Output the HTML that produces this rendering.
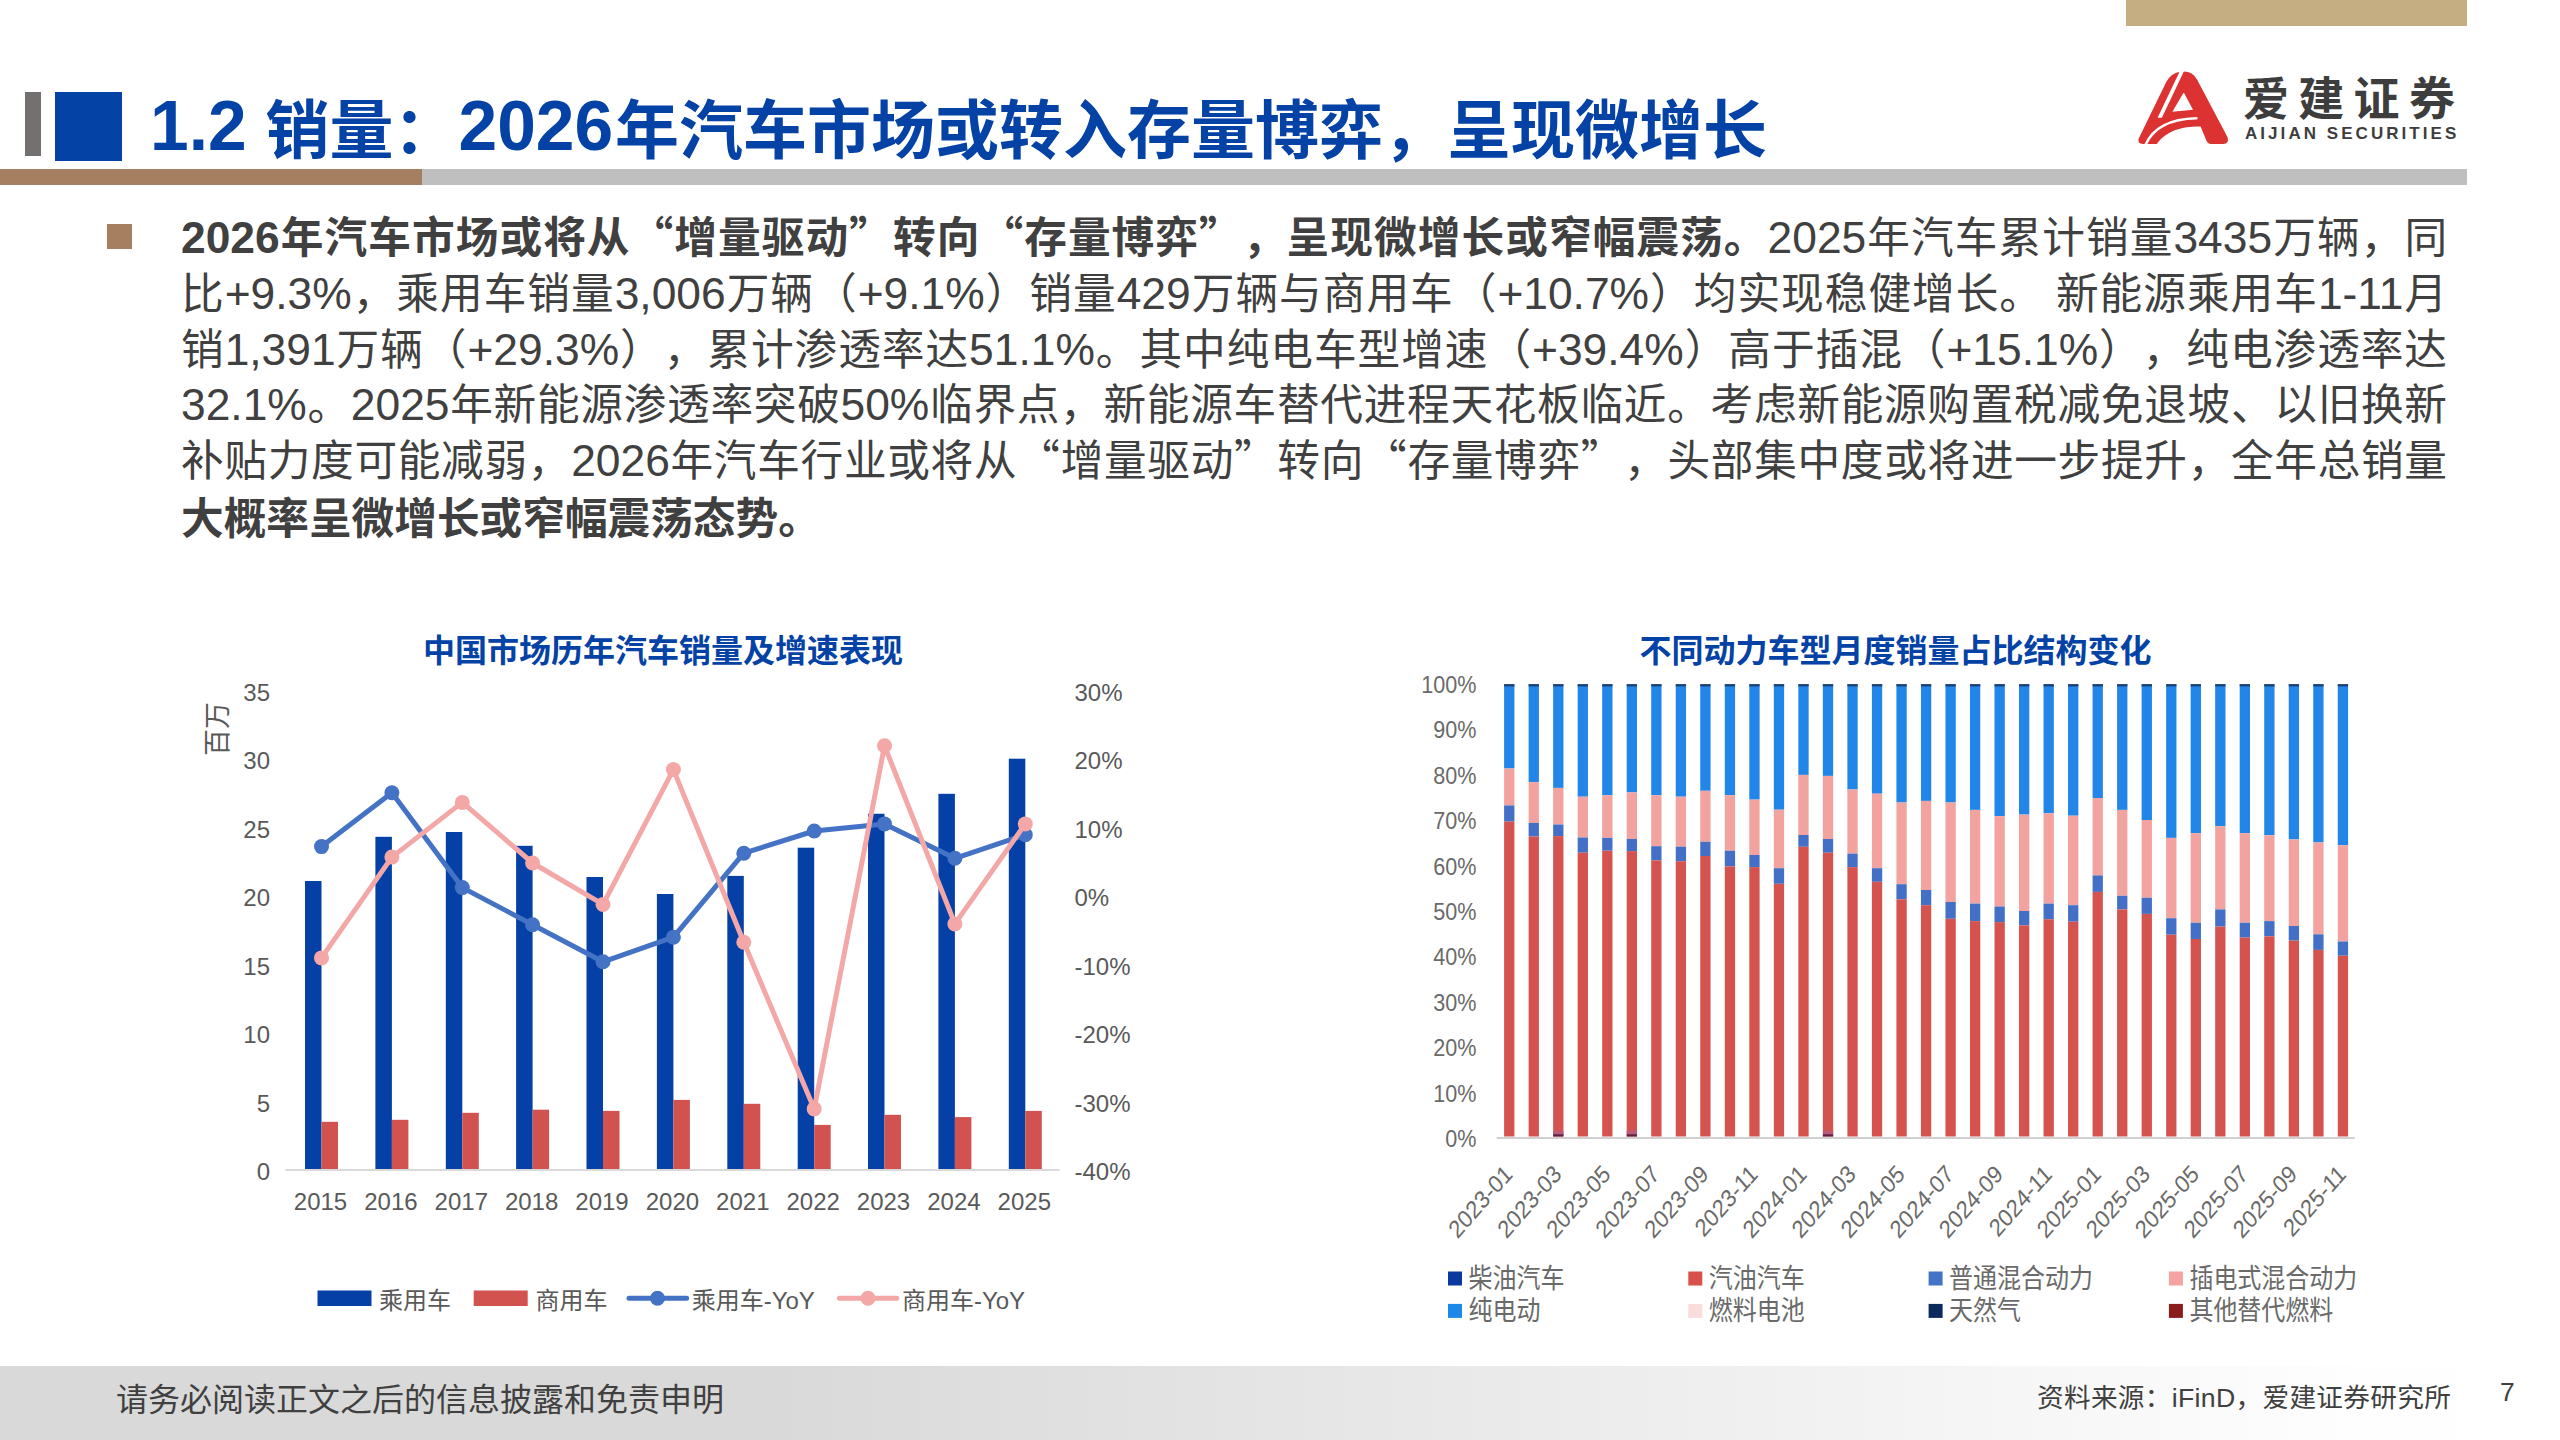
<!DOCTYPE html>
<html lang="zh-CN"><head><meta charset="utf-8"><title>1.2 销量</title>
<style>
html,body{margin:0;padding:0;background:#fff;}
body{width:2560px;height:1440px;position:relative;overflow:hidden;font-family:"Liberation Sans","Noto Sans CJK SC",sans-serif;}
.abs{position:absolute;}
.bl{position:absolute;left:181px;width:2266px;font-size:42.67px;line-height:56px;color:#404040;white-space:nowrap;}
.bl.j{text-align:justify;text-align-last:justify;white-space:normal;}
.bl b{font-weight:700;}
.q{font-family:"Noto Sans CJK SC",sans-serif;line-height:30px;}
.l{font-size:1.04em;line-height:30px;}
body{text-spacing-trim:space-all;}
</style></head><body>

<div class="abs" style="left:2126px;top:0;width:341px;height:26px;background:#c4ae82"></div>
<div class="abs" style="left:25px;top:92px;width:16px;height:64px;background:#757070"></div>
<div class="abs" style="left:55px;top:92px;width:67px;height:69px;background:#0442a6"></div>
<div class="abs" style="left:0;top:169px;width:422px;height:16px;background:#a67f60"></div>
<div class="abs" style="left:422px;top:169px;width:2045px;height:16px;background:#bfbfbf"></div>
<div class="abs" style="left:0;top:0;width:1800px;height:170px">
<span style="position:absolute;font-weight:700;color:#0442a6;white-space:nowrap;left:150px;top:91.5px;font-size:69.5px;line-height:1;font-family:Liberation Sans,sans-serif">1.2</span>
<span style="position:absolute;font-weight:700;color:#0442a6;white-space:nowrap;left:265.5px;top:92.5px;font-size:64px;line-height:1;font-family:Noto Sans CJK SC,sans-serif">销量：</span>
<span style="position:absolute;font-weight:700;color:#0442a6;white-space:nowrap;left:458.5px;top:91.5px;font-size:69.5px;line-height:1;font-family:Liberation Sans,sans-serif;transform:scaleX(1.0);transform-origin:0 0">2026</span>
<span style="position:absolute;font-weight:700;color:#0442a6;white-space:nowrap;left:615px;top:92.5px;font-size:64px;line-height:1;font-family:Noto Sans CJK SC,sans-serif">年汽车市场或转入存量博弈，呈现微增长</span>
</div>
<svg style="position:absolute;left:2130px;top:64px" width="110" height="86" viewBox="0 0 1842 1440">
<path fill="#dc3232" d="M150,1240 L607,300 Q690,145 849,128 L903,127 Q1050,130 1125,262 L1632,1222 Q1668,1336 1560,1338 L1345,1338 Q1300,1335 1282,1290 L1182,1045 C900,1040 620,1100 450,1338 L210,1338 Q110,1332 150,1240 Z"/>
<path fill="#fff" d="M891,490 Q900,478 910,492 L1055,768 L710,799 Z"/>
<path fill="#fff" d="M846,95 L915,95 L534,900 L462,900 Z"/>
<path fill="none" stroke="#fff" stroke-width="42" stroke-linecap="round" d="M262,1350 C380,1080 650,920 1112,908"/>
</svg>
<div class="abs" style="left:2243px;top:65px;font-size:46px;line-height:60px;font-weight:700;color:#3d3d3d;letter-spacing:9.3px;white-space:nowrap;font-family:Noto Sans CJK SC,sans-serif">爱建证券</div>
<div class="abs" style="left:2245px;top:123.5px;font-size:17px;line-height:20px;font-weight:700;color:#3d3d3d;letter-spacing:3.05px;white-space:nowrap">AIJIAN SECURITIES</div>
<div class="abs" style="left:107px;top:224px;width:25px;height:25px;background:#a67f60"></div>
<div class="bl j" style="top:210.0px"><b><span class="l">2026</span>年汽车市场或将从<span class="q">“</span>增量驱动<span class="q">”</span>转向<span class="q">“</span>存量博弈<span class="q">”</span>，呈现微增长或窄幅震荡。</b><span class="l">2025</span>年汽车累计销量<span class="l">3435</span>万辆，同</div>
<div class="bl j" style="top:265.8px">比<span class="l">+9.3%</span>，乘用车销量<span class="l">3,006</span>万辆（<span class="l">+9.1%</span>）销量<span class="l">429</span>万辆与商用车（<span class="l">+10.7%</span>）均实现稳健增长。 新能源乘用车<span class="l">1-11</span>月</div>
<div class="bl j" style="top:321.6px">销<span class="l">1,391</span>万辆（<span class="l">+29.3%</span>），累计渗透率达<span class="l">51.1%</span>。其中纯电车型增速（<span class="l">+39.4%</span>）高于插混（<span class="l">+15.1%</span>），纯电渗透率达</div>
<div class="bl j" style="top:377.4px"><span class="l">32.1%</span>。<span class="l">2025</span>年新能源渗透率突破<span class="l">50%</span>临界点，新能源车替代进程天花板临近。考虑新能源购置税减免退坡、以旧换新</div>
<div class="bl j" style="top:433.2px">补贴力度可能减弱，<span class="l">2026</span>年汽车行业或将从<span class="q">“</span>增量驱动<span class="q">”</span>转向<span class="q">“</span>存量博弈<span class="q">”</span>，头部集中度或将进一步提升，全年总销量</div>
<div class="bl" style="top:491.0px"><b>大概率呈微增长或窄幅震荡态势。</b></div>
<svg class="abs" style="left:0;top:0" width="2560" height="1440" viewBox="0 0 2560 1440" font-family="Liberation Sans, Noto Sans CJK SC, sans-serif">
<text x="663" y="662" text-anchor="middle" font-family='"Liberation Sans", "Noto Sans CJK SC", sans-serif' font-weight="700" font-size="32" fill="#0442a6">中国市场历年汽车销量及增速表现</text>
<text x="270" y="1180.0" text-anchor="end" font-size="24" fill="#595959">0</text>
<text x="1074.5" y="1180.0" font-size="24" fill="#595959">-40%</text>
<text x="270" y="1111.5" text-anchor="end" font-size="24" fill="#595959">5</text>
<text x="1074.5" y="1111.5" font-size="24" fill="#595959">-30%</text>
<text x="270" y="1043.0" text-anchor="end" font-size="24" fill="#595959">10</text>
<text x="1074.5" y="1043.0" font-size="24" fill="#595959">-20%</text>
<text x="270" y="974.5" text-anchor="end" font-size="24" fill="#595959">15</text>
<text x="1074.5" y="974.5" font-size="24" fill="#595959">-10%</text>
<text x="270" y="906.0" text-anchor="end" font-size="24" fill="#595959">20</text>
<text x="1074.5" y="906.0" font-size="24" fill="#595959">0%</text>
<text x="270" y="837.5" text-anchor="end" font-size="24" fill="#595959">25</text>
<text x="1074.5" y="837.5" font-size="24" fill="#595959">10%</text>
<text x="270" y="769.0" text-anchor="end" font-size="24" fill="#595959">30</text>
<text x="1074.5" y="769.0" font-size="24" fill="#595959">20%</text>
<text x="270" y="700.5" text-anchor="end" font-size="24" fill="#595959">35</text>
<text x="1074.5" y="700.5" font-size="24" fill="#595959">30%</text>
<text transform="translate(226.8,729) rotate(-90)" text-anchor="middle" font-family='"Liberation Sans", "Noto Sans CJK SC", sans-serif' font-size="27" fill="#595959">百万</text>
<rect x="305.0" y="881" width="16.5" height="289.0" fill="#0540a6"/>
<rect x="321.5" y="1121.8" width="16.5" height="48.2" fill="#d25250"/>
<rect x="375.4" y="836.8" width="16.5" height="333.2" fill="#0540a6"/>
<rect x="391.9" y="1119.8" width="16.5" height="50.2" fill="#d25250"/>
<rect x="445.8" y="832" width="16.5" height="338.0" fill="#0540a6"/>
<rect x="462.3" y="1112.8" width="16.5" height="57.2" fill="#d25250"/>
<rect x="516.1" y="845.8" width="16.5" height="324.2" fill="#0540a6"/>
<rect x="532.6" y="1109.7" width="16.5" height="60.3" fill="#d25250"/>
<rect x="586.5" y="877" width="16.5" height="293.0" fill="#0540a6"/>
<rect x="603.0" y="1110.9" width="16.5" height="59.1" fill="#d25250"/>
<rect x="656.9" y="894" width="16.5" height="276.0" fill="#0540a6"/>
<rect x="673.4" y="1099.9" width="16.5" height="70.1" fill="#d25250"/>
<rect x="727.3" y="875.9" width="16.5" height="294.1" fill="#0540a6"/>
<rect x="743.8" y="1103.8" width="16.5" height="66.2" fill="#d25250"/>
<rect x="797.7" y="847.7" width="16.5" height="322.3" fill="#0540a6"/>
<rect x="814.2" y="1124.9" width="16.5" height="45.1" fill="#d25250"/>
<rect x="868.0" y="813.75" width="16.5" height="356.2" fill="#0540a6"/>
<rect x="884.5" y="1114.8" width="16.5" height="55.2" fill="#d25250"/>
<rect x="938.4" y="793.8" width="16.5" height="376.2" fill="#0540a6"/>
<rect x="954.9" y="1117.1" width="16.5" height="52.9" fill="#d25250"/>
<rect x="1008.8" y="758.7" width="16.5" height="411.3" fill="#0540a6"/>
<rect x="1025.3" y="1110.9" width="16.5" height="59.1" fill="#d25250"/>
<rect x="285.5" y="1169" width="774" height="2" fill="#d9d9d9"/>
<text x="320.5" y="1210" text-anchor="middle" font-size="24" fill="#595959">2015</text>
<text x="390.9" y="1210" text-anchor="middle" font-size="24" fill="#595959">2016</text>
<text x="461.3" y="1210" text-anchor="middle" font-size="24" fill="#595959">2017</text>
<text x="531.6" y="1210" text-anchor="middle" font-size="24" fill="#595959">2018</text>
<text x="602.0" y="1210" text-anchor="middle" font-size="24" fill="#595959">2019</text>
<text x="672.4" y="1210" text-anchor="middle" font-size="24" fill="#595959">2020</text>
<text x="742.8" y="1210" text-anchor="middle" font-size="24" fill="#595959">2021</text>
<text x="813.2" y="1210" text-anchor="middle" font-size="24" fill="#595959">2022</text>
<text x="883.5" y="1210" text-anchor="middle" font-size="24" fill="#595959">2023</text>
<text x="953.9" y="1210" text-anchor="middle" font-size="24" fill="#595959">2024</text>
<text x="1024.3" y="1210" text-anchor="middle" font-size="24" fill="#595959">2025</text>
<polyline points="321.5,846.6 391.9,792.7 462.3,887.6 532.6,924.7 603.0,961.8 673.4,937.2 743.8,853.2 814.2,831 884.5,823.9 954.9,858.3 1025.3,834.8" fill="none" stroke="#4472c4" stroke-width="5" stroke-linejoin="round"/>
<circle cx="321.5" cy="846.6" r="7.5" fill="#4472c4"/>
<circle cx="391.9" cy="792.7" r="7.5" fill="#4472c4"/>
<circle cx="462.3" cy="887.6" r="7.5" fill="#4472c4"/>
<circle cx="532.6" cy="924.7" r="7.5" fill="#4472c4"/>
<circle cx="603.0" cy="961.8" r="7.5" fill="#4472c4"/>
<circle cx="673.4" cy="937.2" r="7.5" fill="#4472c4"/>
<circle cx="743.8" cy="853.2" r="7.5" fill="#4472c4"/>
<circle cx="814.2" cy="831" r="7.5" fill="#4472c4"/>
<circle cx="884.5" cy="823.9" r="7.5" fill="#4472c4"/>
<circle cx="954.9" cy="858.3" r="7.5" fill="#4472c4"/>
<circle cx="1025.3" cy="834.8" r="7.5" fill="#4472c4"/>
<polyline points="321.5,957.9 391.9,857.1 462.3,802.4 532.6,863 603.0,904.4 673.4,769.6 743.8,942.3 814.2,1108.9 884.5,745.8 954.9,923.9 1025.3,823.9" fill="none" stroke="#f4a7a7" stroke-width="5" stroke-linejoin="round"/>
<circle cx="321.5" cy="957.9" r="7.5" fill="#f4a7a7"/>
<circle cx="391.9" cy="857.1" r="7.5" fill="#f4a7a7"/>
<circle cx="462.3" cy="802.4" r="7.5" fill="#f4a7a7"/>
<circle cx="532.6" cy="863" r="7.5" fill="#f4a7a7"/>
<circle cx="603.0" cy="904.4" r="7.5" fill="#f4a7a7"/>
<circle cx="673.4" cy="769.6" r="7.5" fill="#f4a7a7"/>
<circle cx="743.8" cy="942.3" r="7.5" fill="#f4a7a7"/>
<circle cx="814.2" cy="1108.9" r="7.5" fill="#f4a7a7"/>
<circle cx="884.5" cy="745.8" r="7.5" fill="#f4a7a7"/>
<circle cx="954.9" cy="923.9" r="7.5" fill="#f4a7a7"/>
<circle cx="1025.3" cy="823.9" r="7.5" fill="#f4a7a7"/>
<rect x="317.5" y="1290.5" width="54" height="15.5" fill="#0540a6"/>
<text x="379" y="1308.5" font-family='"Liberation Sans", "Noto Sans CJK SC", sans-serif' font-size="24" fill="#595959">乘用车</text>
<rect x="473.7" y="1290.5" width="54" height="15.5" fill="#d25250"/>
<text x="535.5" y="1308.5" font-family='"Liberation Sans", "Noto Sans CJK SC", sans-serif' font-size="24" fill="#595959">商用车</text>
<line x1="629" y1="1298.3" x2="686.6" y2="1298.3" stroke="#4472c4" stroke-width="5" stroke-linecap="round"/>
<circle cx="657.5" cy="1298.3" r="7.5" fill="#4472c4"/>
<text x="691.7" y="1308.5" font-family='"Liberation Sans", "Noto Sans CJK SC", sans-serif' font-size="24" fill="#595959">乘用车-YoY</text>
<line x1="839.4" y1="1298.3" x2="896.8" y2="1298.3" stroke="#f4a7a7" stroke-width="5" stroke-linecap="round"/>
<circle cx="868" cy="1298.3" r="7.5" fill="#f4a7a7"/>
<text x="901.9" y="1308.5" font-family='"Liberation Sans", "Noto Sans CJK SC", sans-serif' font-size="24" fill="#595959">商用车-YoY</text>
<text x="1895.4" y="662" text-anchor="middle" font-family='"Liberation Sans", "Noto Sans CJK SC", sans-serif' font-weight="700" font-size="32" fill="#0442a6">不同动力车型月度销量占比结构变化</text>
<text transform="translate(1476.5,1146.9) scale(1,1.135)" text-anchor="end" font-size="21.6" fill="#6a6a6a">0%</text>
<text transform="translate(1476.5,1101.5) scale(1,1.135)" text-anchor="end" font-size="21.6" fill="#6a6a6a">10%</text>
<text transform="translate(1476.5,1056.1) scale(1,1.135)" text-anchor="end" font-size="21.6" fill="#6a6a6a">20%</text>
<text transform="translate(1476.5,1010.7) scale(1,1.135)" text-anchor="end" font-size="21.6" fill="#6a6a6a">30%</text>
<text transform="translate(1476.5,965.3) scale(1,1.135)" text-anchor="end" font-size="21.6" fill="#6a6a6a">40%</text>
<text transform="translate(1476.5,919.9) scale(1,1.135)" text-anchor="end" font-size="21.6" fill="#6a6a6a">50%</text>
<text transform="translate(1476.5,874.5) scale(1,1.135)" text-anchor="end" font-size="21.6" fill="#6a6a6a">60%</text>
<text transform="translate(1476.5,829.1) scale(1,1.135)" text-anchor="end" font-size="21.6" fill="#6a6a6a">70%</text>
<text transform="translate(1476.5,783.7) scale(1,1.135)" text-anchor="end" font-size="21.6" fill="#6a6a6a">80%</text>
<text transform="translate(1476.5,738.3) scale(1,1.135)" text-anchor="end" font-size="21.6" fill="#6a6a6a">90%</text>
<text transform="translate(1476.5,692.9) scale(1,1.135)" text-anchor="end" font-size="21.6" fill="#6a6a6a">100%</text>
<rect x="1504.10" y="684.2" width="10.3" height="84.3" fill="#2285e8"/>
<rect x="1504.10" y="684.2" width="10.3" height="2.2" fill="#1c3f72"/>
<rect x="1504.10" y="768.5" width="10.3" height="36.9" fill="#f2a3a0"/>
<rect x="1504.10" y="805.4" width="10.3" height="16.2" fill="#4370c6"/>
<rect x="1504.10" y="821.6" width="10.3" height="314.9" fill="#d5534f"/>
<rect x="1528.62" y="684.2" width="10.3" height="97.9" fill="#2285e8"/>
<rect x="1528.62" y="684.2" width="10.3" height="2.2" fill="#1c3f72"/>
<rect x="1528.62" y="782.1" width="10.3" height="40.8" fill="#f2a3a0"/>
<rect x="1528.62" y="822.9" width="10.3" height="13.6" fill="#4370c6"/>
<rect x="1528.62" y="836.5" width="10.3" height="300.0" fill="#d5534f"/>
<rect x="1553.14" y="684.2" width="10.3" height="103.7" fill="#2285e8"/>
<rect x="1553.14" y="684.2" width="10.3" height="2.2" fill="#1c3f72"/>
<rect x="1553.14" y="787.9" width="10.3" height="36.6" fill="#f2a3a0"/>
<rect x="1553.14" y="824.5" width="10.3" height="11.6" fill="#4370c6"/>
<rect x="1553.14" y="836.1" width="10.3" height="300.4" fill="#d5534f"/>
<rect x="1577.66" y="684.2" width="10.3" height="112.5" fill="#2285e8"/>
<rect x="1577.66" y="684.2" width="10.3" height="2.2" fill="#1c3f72"/>
<rect x="1577.66" y="796.7" width="10.3" height="40.8" fill="#f2a3a0"/>
<rect x="1577.66" y="837.5" width="10.3" height="15.2" fill="#4370c6"/>
<rect x="1577.66" y="852.7" width="10.3" height="283.8" fill="#d5534f"/>
<rect x="1602.18" y="684.2" width="10.3" height="111.1" fill="#2285e8"/>
<rect x="1602.18" y="684.2" width="10.3" height="2.2" fill="#1c3f72"/>
<rect x="1602.18" y="795.3" width="10.3" height="42.6" fill="#f2a3a0"/>
<rect x="1602.18" y="837.9" width="10.3" height="12.8" fill="#4370c6"/>
<rect x="1602.18" y="850.7" width="10.3" height="285.8" fill="#d5534f"/>
<rect x="1626.70" y="684.2" width="10.3" height="108.2" fill="#2285e8"/>
<rect x="1626.70" y="684.2" width="10.3" height="2.2" fill="#1c3f72"/>
<rect x="1626.70" y="792.4" width="10.3" height="46.6" fill="#f2a3a0"/>
<rect x="1626.70" y="839.0" width="10.3" height="12.1" fill="#4370c6"/>
<rect x="1626.70" y="851.1" width="10.3" height="285.4" fill="#d5534f"/>
<rect x="1651.22" y="684.2" width="10.3" height="111.1" fill="#2285e8"/>
<rect x="1651.22" y="684.2" width="10.3" height="2.2" fill="#1c3f72"/>
<rect x="1651.22" y="795.3" width="10.3" height="50.9" fill="#f2a3a0"/>
<rect x="1651.22" y="846.2" width="10.3" height="14.2" fill="#4370c6"/>
<rect x="1651.22" y="860.4" width="10.3" height="276.1" fill="#d5534f"/>
<rect x="1675.74" y="684.2" width="10.3" height="112.5" fill="#2285e8"/>
<rect x="1675.74" y="684.2" width="10.3" height="2.2" fill="#1c3f72"/>
<rect x="1675.74" y="796.7" width="10.3" height="49.9" fill="#f2a3a0"/>
<rect x="1675.74" y="846.6" width="10.3" height="14.6" fill="#4370c6"/>
<rect x="1675.74" y="861.2" width="10.3" height="275.3" fill="#d5534f"/>
<rect x="1700.26" y="684.2" width="10.3" height="106.6" fill="#2285e8"/>
<rect x="1700.26" y="684.2" width="10.3" height="2.2" fill="#1c3f72"/>
<rect x="1700.26" y="790.8" width="10.3" height="51.0" fill="#f2a3a0"/>
<rect x="1700.26" y="841.8" width="10.3" height="14.2" fill="#4370c6"/>
<rect x="1700.26" y="856.0" width="10.3" height="280.5" fill="#d5534f"/>
<rect x="1724.78" y="684.2" width="10.3" height="110.9" fill="#2285e8"/>
<rect x="1724.78" y="684.2" width="10.3" height="2.2" fill="#1c3f72"/>
<rect x="1724.78" y="795.1" width="10.3" height="55.6" fill="#f2a3a0"/>
<rect x="1724.78" y="850.7" width="10.3" height="15.6" fill="#4370c6"/>
<rect x="1724.78" y="866.3" width="10.3" height="270.2" fill="#d5534f"/>
<rect x="1749.30" y="684.2" width="10.3" height="115.4" fill="#2285e8"/>
<rect x="1749.30" y="684.2" width="10.3" height="2.2" fill="#1c3f72"/>
<rect x="1749.30" y="799.6" width="10.3" height="55.4" fill="#f2a3a0"/>
<rect x="1749.30" y="855.0" width="10.3" height="12.1" fill="#4370c6"/>
<rect x="1749.30" y="867.1" width="10.3" height="269.4" fill="#d5534f"/>
<rect x="1773.82" y="684.2" width="10.3" height="125.5" fill="#2285e8"/>
<rect x="1773.82" y="684.2" width="10.3" height="2.2" fill="#1c3f72"/>
<rect x="1773.82" y="809.7" width="10.3" height="58.5" fill="#f2a3a0"/>
<rect x="1773.82" y="868.2" width="10.3" height="15.6" fill="#4370c6"/>
<rect x="1773.82" y="883.8" width="10.3" height="252.7" fill="#d5534f"/>
<rect x="1798.34" y="684.2" width="10.3" height="90.7" fill="#2285e8"/>
<rect x="1798.34" y="684.2" width="10.3" height="2.2" fill="#1c3f72"/>
<rect x="1798.34" y="774.9" width="10.3" height="60.1" fill="#f2a3a0"/>
<rect x="1798.34" y="835.0" width="10.3" height="11.8" fill="#4370c6"/>
<rect x="1798.34" y="846.8" width="10.3" height="289.7" fill="#d5534f"/>
<rect x="1822.86" y="684.2" width="10.3" height="91.7" fill="#2285e8"/>
<rect x="1822.86" y="684.2" width="10.3" height="2.2" fill="#1c3f72"/>
<rect x="1822.86" y="775.9" width="10.3" height="63.1" fill="#f2a3a0"/>
<rect x="1822.86" y="839.0" width="10.3" height="13.7" fill="#4370c6"/>
<rect x="1822.86" y="852.7" width="10.3" height="283.8" fill="#d5534f"/>
<rect x="1847.38" y="684.2" width="10.3" height="105.3" fill="#2285e8"/>
<rect x="1847.38" y="684.2" width="10.3" height="2.2" fill="#1c3f72"/>
<rect x="1847.38" y="789.5" width="10.3" height="64.1" fill="#f2a3a0"/>
<rect x="1847.38" y="853.6" width="10.3" height="13.5" fill="#4370c6"/>
<rect x="1847.38" y="867.1" width="10.3" height="269.4" fill="#d5534f"/>
<rect x="1871.90" y="684.2" width="10.3" height="109.5" fill="#2285e8"/>
<rect x="1871.90" y="684.2" width="10.3" height="2.2" fill="#1c3f72"/>
<rect x="1871.90" y="793.7" width="10.3" height="74.5" fill="#f2a3a0"/>
<rect x="1871.90" y="868.2" width="10.3" height="13.6" fill="#4370c6"/>
<rect x="1871.90" y="881.8" width="10.3" height="254.7" fill="#d5534f"/>
<rect x="1896.42" y="684.2" width="10.3" height="118.3" fill="#2285e8"/>
<rect x="1896.42" y="684.2" width="10.3" height="2.2" fill="#1c3f72"/>
<rect x="1896.42" y="802.5" width="10.3" height="81.7" fill="#f2a3a0"/>
<rect x="1896.42" y="884.2" width="10.3" height="15.1" fill="#4370c6"/>
<rect x="1896.42" y="899.3" width="10.3" height="237.2" fill="#d5534f"/>
<rect x="1920.94" y="684.2" width="10.3" height="116.7" fill="#2285e8"/>
<rect x="1920.94" y="684.2" width="10.3" height="2.2" fill="#1c3f72"/>
<rect x="1920.94" y="800.9" width="10.3" height="89.1" fill="#f2a3a0"/>
<rect x="1920.94" y="890.0" width="10.3" height="15.2" fill="#4370c6"/>
<rect x="1920.94" y="905.2" width="10.3" height="231.3" fill="#d5534f"/>
<rect x="1945.46" y="684.2" width="10.3" height="118.3" fill="#2285e8"/>
<rect x="1945.46" y="684.2" width="10.3" height="2.2" fill="#1c3f72"/>
<rect x="1945.46" y="802.5" width="10.3" height="99.5" fill="#f2a3a0"/>
<rect x="1945.46" y="902.0" width="10.3" height="16.8" fill="#4370c6"/>
<rect x="1945.46" y="918.8" width="10.3" height="217.7" fill="#d5534f"/>
<rect x="1969.98" y="684.2" width="10.3" height="125.7" fill="#2285e8"/>
<rect x="1969.98" y="684.2" width="10.3" height="2.2" fill="#1c3f72"/>
<rect x="1969.98" y="809.9" width="10.3" height="93.7" fill="#f2a3a0"/>
<rect x="1969.98" y="903.6" width="10.3" height="17.5" fill="#4370c6"/>
<rect x="1969.98" y="921.1" width="10.3" height="215.4" fill="#d5534f"/>
<rect x="1994.50" y="684.2" width="10.3" height="131.9" fill="#2285e8"/>
<rect x="1994.50" y="684.2" width="10.3" height="2.2" fill="#1c3f72"/>
<rect x="1994.50" y="816.1" width="10.3" height="90.4" fill="#f2a3a0"/>
<rect x="1994.50" y="906.5" width="10.3" height="15.6" fill="#4370c6"/>
<rect x="1994.50" y="922.1" width="10.3" height="214.4" fill="#d5534f"/>
<rect x="2019.02" y="684.2" width="10.3" height="130.4" fill="#2285e8"/>
<rect x="2019.02" y="684.2" width="10.3" height="2.2" fill="#1c3f72"/>
<rect x="2019.02" y="814.6" width="10.3" height="96.4" fill="#f2a3a0"/>
<rect x="2019.02" y="911.0" width="10.3" height="14.4" fill="#4370c6"/>
<rect x="2019.02" y="925.4" width="10.3" height="211.1" fill="#d5534f"/>
<rect x="2043.54" y="684.2" width="10.3" height="129.0" fill="#2285e8"/>
<rect x="2043.54" y="684.2" width="10.3" height="2.2" fill="#1c3f72"/>
<rect x="2043.54" y="813.2" width="10.3" height="90.4" fill="#f2a3a0"/>
<rect x="2043.54" y="903.6" width="10.3" height="15.6" fill="#4370c6"/>
<rect x="2043.54" y="919.2" width="10.3" height="217.3" fill="#d5534f"/>
<rect x="2068.06" y="684.2" width="10.3" height="131.5" fill="#2285e8"/>
<rect x="2068.06" y="684.2" width="10.3" height="2.2" fill="#1c3f72"/>
<rect x="2068.06" y="815.7" width="10.3" height="89.5" fill="#f2a3a0"/>
<rect x="2068.06" y="905.2" width="10.3" height="16.5" fill="#4370c6"/>
<rect x="2068.06" y="921.7" width="10.3" height="214.8" fill="#d5534f"/>
<rect x="2092.58" y="684.2" width="10.3" height="113.8" fill="#2285e8"/>
<rect x="2092.58" y="684.2" width="10.3" height="2.2" fill="#1c3f72"/>
<rect x="2092.58" y="798.0" width="10.3" height="77.4" fill="#f2a3a0"/>
<rect x="2092.58" y="875.4" width="10.3" height="16.5" fill="#4370c6"/>
<rect x="2092.58" y="891.9" width="10.3" height="244.6" fill="#d5534f"/>
<rect x="2117.10" y="684.2" width="10.3" height="125.7" fill="#2285e8"/>
<rect x="2117.10" y="684.2" width="10.3" height="2.2" fill="#1c3f72"/>
<rect x="2117.10" y="809.9" width="10.3" height="85.9" fill="#f2a3a0"/>
<rect x="2117.10" y="895.8" width="10.3" height="13.6" fill="#4370c6"/>
<rect x="2117.10" y="909.4" width="10.3" height="227.1" fill="#d5534f"/>
<rect x="2141.62" y="684.2" width="10.3" height="135.8" fill="#2285e8"/>
<rect x="2141.62" y="684.2" width="10.3" height="2.2" fill="#1c3f72"/>
<rect x="2141.62" y="820.0" width="10.3" height="77.8" fill="#f2a3a0"/>
<rect x="2141.62" y="897.8" width="10.3" height="16.1" fill="#4370c6"/>
<rect x="2141.62" y="913.9" width="10.3" height="222.6" fill="#d5534f"/>
<rect x="2166.14" y="684.2" width="10.3" height="153.7" fill="#2285e8"/>
<rect x="2166.14" y="684.2" width="10.3" height="2.2" fill="#1c3f72"/>
<rect x="2166.14" y="837.9" width="10.3" height="80.3" fill="#f2a3a0"/>
<rect x="2166.14" y="918.2" width="10.3" height="16.5" fill="#4370c6"/>
<rect x="2166.14" y="934.7" width="10.3" height="201.8" fill="#d5534f"/>
<rect x="2190.66" y="684.2" width="10.3" height="149.0" fill="#2285e8"/>
<rect x="2190.66" y="684.2" width="10.3" height="2.2" fill="#1c3f72"/>
<rect x="2190.66" y="833.2" width="10.3" height="89.5" fill="#f2a3a0"/>
<rect x="2190.66" y="922.7" width="10.3" height="16.3" fill="#4370c6"/>
<rect x="2190.66" y="939.0" width="10.3" height="197.5" fill="#d5534f"/>
<rect x="2215.18" y="684.2" width="10.3" height="142.0" fill="#2285e8"/>
<rect x="2215.18" y="684.2" width="10.3" height="2.2" fill="#1c3f72"/>
<rect x="2215.18" y="826.2" width="10.3" height="83.2" fill="#f2a3a0"/>
<rect x="2215.18" y="909.4" width="10.3" height="17.2" fill="#4370c6"/>
<rect x="2215.18" y="926.6" width="10.3" height="209.9" fill="#d5534f"/>
<rect x="2239.70" y="684.2" width="10.3" height="149.0" fill="#2285e8"/>
<rect x="2239.70" y="684.2" width="10.3" height="2.2" fill="#1c3f72"/>
<rect x="2239.70" y="833.2" width="10.3" height="89.5" fill="#f2a3a0"/>
<rect x="2239.70" y="922.7" width="10.3" height="14.9" fill="#4370c6"/>
<rect x="2239.70" y="937.6" width="10.3" height="198.9" fill="#d5534f"/>
<rect x="2264.22" y="684.2" width="10.3" height="151.0" fill="#2285e8"/>
<rect x="2264.22" y="684.2" width="10.3" height="2.2" fill="#1c3f72"/>
<rect x="2264.22" y="835.2" width="10.3" height="85.9" fill="#f2a3a0"/>
<rect x="2264.22" y="921.1" width="10.3" height="15.2" fill="#4370c6"/>
<rect x="2264.22" y="936.3" width="10.3" height="200.2" fill="#d5534f"/>
<rect x="2288.74" y="684.2" width="10.3" height="155.2" fill="#2285e8"/>
<rect x="2288.74" y="684.2" width="10.3" height="2.2" fill="#1c3f72"/>
<rect x="2288.74" y="839.4" width="10.3" height="86.6" fill="#f2a3a0"/>
<rect x="2288.74" y="926.0" width="10.3" height="14.6" fill="#4370c6"/>
<rect x="2288.74" y="940.6" width="10.3" height="195.9" fill="#d5534f"/>
<rect x="2313.26" y="684.2" width="10.3" height="158.2" fill="#2285e8"/>
<rect x="2313.26" y="684.2" width="10.3" height="2.2" fill="#1c3f72"/>
<rect x="2313.26" y="842.4" width="10.3" height="91.9" fill="#f2a3a0"/>
<rect x="2313.26" y="934.3" width="10.3" height="15.6" fill="#4370c6"/>
<rect x="2313.26" y="949.9" width="10.3" height="186.6" fill="#d5534f"/>
<rect x="2337.78" y="684.2" width="10.3" height="161.1" fill="#2285e8"/>
<rect x="2337.78" y="684.2" width="10.3" height="2.2" fill="#1c3f72"/>
<rect x="2337.78" y="845.3" width="10.3" height="96.2" fill="#f2a3a0"/>
<rect x="2337.78" y="941.5" width="10.3" height="14.2" fill="#4370c6"/>
<rect x="2337.78" y="955.7" width="10.3" height="180.8" fill="#d5534f"/>
<rect x="1553.14" y="1130.8" width="10.3" height="3.6" fill="#b45c7a"/>
<rect x="1553.14" y="1134.3" width="10.3" height="2.2" fill="#5e2045"/>
<rect x="1626.70" y="1130.8" width="10.3" height="3.6" fill="#b45c7a"/>
<rect x="1626.70" y="1134.3" width="10.3" height="2.2" fill="#5e2045"/>
<rect x="1822.86" y="1130.8" width="10.3" height="3.6" fill="#b45c7a"/>
<rect x="1822.86" y="1134.3" width="10.3" height="2.2" fill="#5e2045"/>
<rect x="1496.7" y="1137" width="858" height="2" fill="#d0d0d0"/>
<text transform="translate(1513.8,1175.5) scale(1,1.135) rotate(-45)" text-anchor="end" font-size="21.7" fill="#6a6a6a">2023-01</text>
<text transform="translate(1562.8,1175.5) scale(1,1.135) rotate(-45)" text-anchor="end" font-size="21.7" fill="#6a6a6a">2023-03</text>
<text transform="translate(1611.8,1175.5) scale(1,1.135) rotate(-45)" text-anchor="end" font-size="21.7" fill="#6a6a6a">2023-05</text>
<text transform="translate(1660.9,1175.5) scale(1,1.135) rotate(-45)" text-anchor="end" font-size="21.7" fill="#6a6a6a">2023-07</text>
<text transform="translate(1709.9,1175.5) scale(1,1.135) rotate(-45)" text-anchor="end" font-size="21.7" fill="#6a6a6a">2023-09</text>
<text transform="translate(1759.0,1175.5) scale(1,1.135) rotate(-45)" text-anchor="end" font-size="21.7" fill="#6a6a6a">2023-11</text>
<text transform="translate(1808.0,1175.5) scale(1,1.135) rotate(-45)" text-anchor="end" font-size="21.7" fill="#6a6a6a">2024-01</text>
<text transform="translate(1857.0,1175.5) scale(1,1.135) rotate(-45)" text-anchor="end" font-size="21.7" fill="#6a6a6a">2024-03</text>
<text transform="translate(1906.1,1175.5) scale(1,1.135) rotate(-45)" text-anchor="end" font-size="21.7" fill="#6a6a6a">2024-05</text>
<text transform="translate(1955.1,1175.5) scale(1,1.135) rotate(-45)" text-anchor="end" font-size="21.7" fill="#6a6a6a">2024-07</text>
<text transform="translate(2004.2,1175.5) scale(1,1.135) rotate(-45)" text-anchor="end" font-size="21.7" fill="#6a6a6a">2024-09</text>
<text transform="translate(2053.2,1175.5) scale(1,1.135) rotate(-45)" text-anchor="end" font-size="21.7" fill="#6a6a6a">2024-11</text>
<text transform="translate(2102.2,1175.5) scale(1,1.135) rotate(-45)" text-anchor="end" font-size="21.7" fill="#6a6a6a">2025-01</text>
<text transform="translate(2151.3,1175.5) scale(1,1.135) rotate(-45)" text-anchor="end" font-size="21.7" fill="#6a6a6a">2025-03</text>
<text transform="translate(2200.3,1175.5) scale(1,1.135) rotate(-45)" text-anchor="end" font-size="21.7" fill="#6a6a6a">2025-05</text>
<text transform="translate(2249.3,1175.5) scale(1,1.135) rotate(-45)" text-anchor="end" font-size="21.7" fill="#6a6a6a">2025-07</text>
<text transform="translate(2298.4,1175.5) scale(1,1.135) rotate(-45)" text-anchor="end" font-size="21.7" fill="#6a6a6a">2025-09</text>
<text transform="translate(2347.4,1175.5) scale(1,1.135) rotate(-45)" text-anchor="end" font-size="21.7" fill="#6a6a6a">2025-11</text>
<rect x="1448.0" y="1271.5" width="14" height="14" fill="#0b3a9e"/>
<text transform="translate(1468.5,1287.5) scale(1,1.135)" font-family='"Liberation Sans", "Noto Sans CJK SC", sans-serif' font-size="24" fill="#6a6a6a">柴油汽车</text>
<rect x="1688.3" y="1271.5" width="14" height="14" fill="#d9504a"/>
<text transform="translate(1708.8,1287.5) scale(1,1.135)" font-family='"Liberation Sans", "Noto Sans CJK SC", sans-serif' font-size="24" fill="#6a6a6a">汽油汽车</text>
<rect x="1928.6" y="1271.5" width="14" height="14" fill="#4472c4"/>
<text transform="translate(1949.1,1287.5) scale(1,1.135)" font-family='"Liberation Sans", "Noto Sans CJK SC", sans-serif' font-size="24" fill="#6a6a6a">普通混合动力</text>
<rect x="2168.9" y="1271.5" width="14" height="14" fill="#f4a3a0"/>
<text transform="translate(2189.4,1287.5) scale(1,1.135)" font-family='"Liberation Sans", "Noto Sans CJK SC", sans-serif' font-size="24" fill="#6a6a6a">插电式混合动力</text>
<rect x="1448.0" y="1303.9" width="14" height="14" fill="#1e88e8"/>
<text transform="translate(1468.5,1319.9) scale(1,1.135)" font-family='"Liberation Sans", "Noto Sans CJK SC", sans-serif' font-size="24" fill="#6a6a6a">纯电动</text>
<rect x="1688.3" y="1303.9" width="14" height="14" fill="#f9dcdc"/>
<text transform="translate(1708.8,1319.9) scale(1,1.135)" font-family='"Liberation Sans", "Noto Sans CJK SC", sans-serif' font-size="24" fill="#6a6a6a">燃料电池</text>
<rect x="1928.6" y="1303.9" width="14" height="14" fill="#0a2a5e"/>
<text transform="translate(1949.1,1319.9) scale(1,1.135)" font-family='"Liberation Sans", "Noto Sans CJK SC", sans-serif' font-size="24" fill="#6a6a6a">天然气</text>
<rect x="2168.9" y="1303.9" width="14" height="14" fill="#8b1c1c"/>
<text transform="translate(2189.4,1319.9) scale(1,1.135)" font-family='"Liberation Sans", "Noto Sans CJK SC", sans-serif' font-size="24" fill="#6a6a6a">其他替代燃料</text>
</svg>
<div class="abs" style="left:0;top:1366px;width:2560px;height:74px;background:linear-gradient(to right,#d9d9d9 0%,#d9d9d9 30%,#fefefe 92%,#ffffff 100%)"></div>
<div class="abs" style="left:116px;top:1378px;font-size:32px;line-height:44px;color:#404040;white-space:nowrap">请务必阅读正文之后的信息披露和免责申明</div>
<div class="abs" style="left:2037px;top:1378.5px;font-size:26.67px;line-height:38px;color:#404040;letter-spacing:0.3px;white-space:nowrap">资料来源：iFinD，爱建证券研究所</div>
<div class="abs" style="left:2500px;top:1374.5px;font-size:26.5px;line-height:34px;color:#404040;white-space:nowrap">7</div>
</body></html>
